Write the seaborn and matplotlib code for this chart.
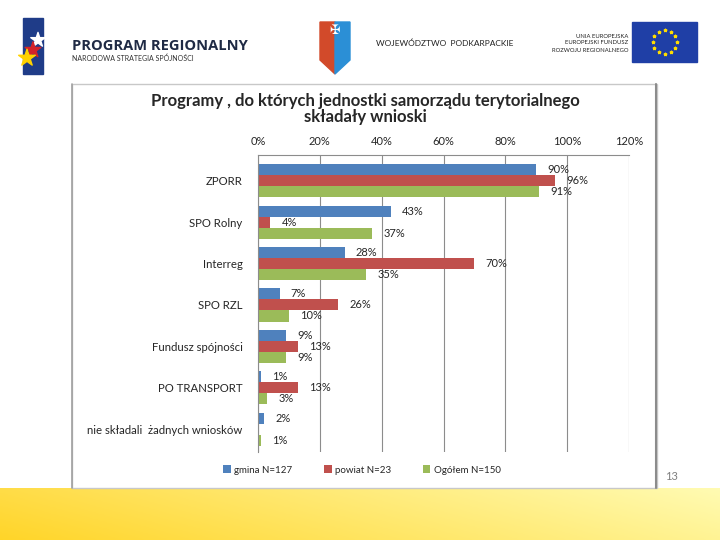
import matplotlib
matplotlib.use("Agg")
import matplotlib.pyplot as plt
import matplotlib.patches as mpatches
import seaborn as sns
import numpy as np
import pandas as pd

# data
programs = ["ZPORR", "SPO Rolny", "Interreg", "SPO RZL", "Fundusz spójności",
            "PO TRANSPORT", "nie składali  żadnych wniosków"]
series = ["gmina N=127", "powiat N=23", "Ogółem N=150"]
gmina = [90, 43, 28, 7, 9, 1, 2]
powiat = [96, 4, 70, 26, 13, 13, 0]
ogolem = [91, 37, 35, 10, 9, 3, 1]
xticks = [0, 20, 40, 60, 80, 100, 120]
colors = ["#4F81BD", "#C0504D", "#9BBB59"]

df = pd.DataFrame({
    "program": programs * 3,
    "value": gmina + powiat + ogolem,
    "series": [s for s in series for _ in programs],
})

sns.set_style("white")
plt.rcParams["font.family"] = ["Lato", "DejaVu Sans"]

fig = plt.figure(figsize=(7.2, 5.4), dpi=100)

# background layer in pixel coordinates (slide decoration)
bg = fig.add_axes([0, 0, 1, 1])
bg.set_xlim(0, 720)
bg.set_ylim(540, 0)
bg.axis("off")

# yellow band at the bottom
grad = np.linspace(0, 1, 256)[None, :]
vert = np.linspace(0.03, -0.03, 30)[:, None]
r = np.ones((30, 256))
g = np.clip(0.85 + 0.12 * grad + vert * 0.5, 0, 1)
b = np.clip(0.22 + 0.42 * grad + vert * 2, 0, 1)
img = np.dstack([r, g, b])
bg.imshow(img, extent=[0, 720, 540, 488], aspect="auto", zorder=0)

# chart frame
bg.add_patch(mpatches.Rectangle((72, 84), 585, 404, fill=False,
                                edgecolor="#C8C8C8", lw=1.0, zorder=1))
bg.plot([72, 72], [84, 488], color="#A0A0A0", lw=1.2, zorder=1)
bg.plot([656, 656], [84, 488], color="#8C8C8C", lw=1.5, zorder=1)
bg.text(672, 477, "13", fontsize=8, color="#7F7F7F", ha="center", va="center")

# header: program regionalny logo
bg.add_patch(mpatches.Rectangle((23, 18), 20, 56, color="#1F3C88", zorder=1))
bg.scatter([38, 33, 27], [40, 50, 58], s=[120, 140, 160], marker="*",
           c=["white", "#D2232A", "#FFD200"], zorder=2)
bg.text(72, 46, "PROGRAM REGIONALNY", fontsize=10.5, fontweight="bold",
        color="#1F2A44", va="center", ha="left", family=["Open Sans", "DejaVu Sans"])
bg.text(72, 58, "NARODOWA STRATEGIA SPÓJNOŚCI", fontsize=5, color="#333333",
        va="center", ha="left")

# header: coat of arms
bg.add_patch(mpatches.Polygon([(320, 22), (335, 22), (335, 74), (320, 60)],
                              color="#D24A2A", zorder=1))
bg.add_patch(mpatches.Polygon([(335, 22), (350, 22), (350, 60), (335, 74)],
                              color="#2B8FD6", zorder=1))
bg.text(335, 30, "✠", fontsize=9, color="white", ha="center", va="center",
        family=["DejaVu Sans"])
bg.text(376, 43, "WOJEWÓDZTWO  PODKARPACKIE", fontsize=6, color="#222222",
        va="center", ha="left")

# header: EU
for i, line in enumerate(["UNIA EUROPEJSKA", "EUROPEJSKI FUNDUSZ",
                          "ROZWOJU REGIONALNEGO"]):
    bg.text(628, 36 + 7 * i, line, fontsize=4.2, color="#222222",
            ha="right", va="center")
bg.add_patch(mpatches.Rectangle((632, 22), 65, 40, color="#1F3FA6", zorder=1))
ang = np.linspace(0, 2 * np.pi, 13)[:-1]
bg.scatter(664.5 + 12 * np.cos(ang), 42 + 12 * np.sin(ang), s=4,
           marker="*", c="#FFDD00", zorder=2)

# title
fig.text(365 / 720, 1 - 101 / 540, "Programy , do których jednostki samorządu terytorialnego",
         ha="center", va="center", fontsize=12, fontweight="bold")
fig.text(365 / 720, 1 - 117 / 540, "składały wnioski",
         ha="center", va="center", fontsize=12, fontweight="bold")

# main chart
ax = fig.add_axes([258 / 720, 1 - 452 / 540, (629 - 258) / 720, (452 - 155) / 540])
sns.barplot(data=df, x="value", y="program", hue="series", hue_order=series,
            order=programs, palette=colors, saturation=1, width=0.8,
            orient="h", ax=ax, legend=True, linewidth=0)

for cont, vals in zip(ax.containers, [gmina, powiat, ogolem]):
    ax.bar_label(cont, labels=[f"{v}%" if v > 0 else "" for v in vals],
                 padding=8, fontsize=8)

ax.set_xlim(0, 120)
ax.set_ylim(6.55, -0.62)
ax.set_xticks(xticks)
ax.set_xticklabels([f"{t}%" for t in xticks])
ax.xaxis.tick_top()
ax.tick_params(axis="x", length=0, labelsize=8, pad=6)
ax.tick_params(axis="y", which="major", length=0, labelsize=8.2, pad=11)
ax.set_yticks(np.arange(-0.5, len(programs) - 0.5, 1.0), minor=True)
ax.tick_params(axis="y", which="minor", length=5, color="#8C8C8C", width=0.8)
ax.set_xlabel("")
ax.set_ylabel("")
ax.grid(axis="x", color="#8C8C8C", lw=0.8)
ax.set_axisbelow(True)
for side in ["right", "bottom"]:
    ax.spines[side].set_visible(False)
for side in ["top", "left"]:
    ax.spines[side].set_color("#8C8C8C")
    ax.spines[side].set_linewidth(0.8)

handles, labels = ax.get_legend_handles_labels()
ax.get_legend().remove()
fig.legend(handles, labels, loc="center", bbox_to_anchor=(362 / 720, 1 - 470 / 540),
           ncol=3, frameon=False, fontsize=7, handlelength=0.8, handleheight=0.8,
           columnspacing=3.2, handletextpad=0.4)

fig.savefig("out.png", dpi=100)
